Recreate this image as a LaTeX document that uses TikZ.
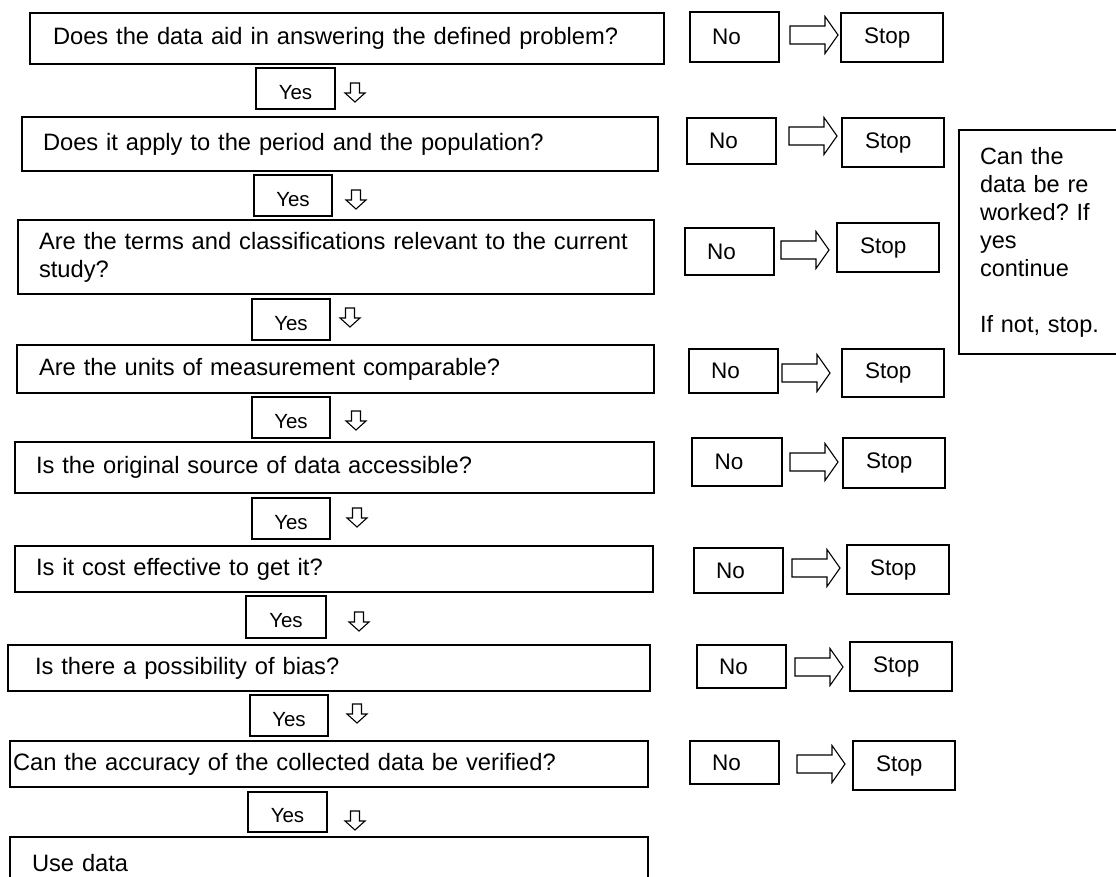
\documentclass[tikz,border=0pt]{standalone}
\usepackage{fontspec}
\setmainfont{Liberation Sans}
\frenchspacing
\begin{document}
\begin{tikzpicture}[x=1pt,y=-1pt,
  box/.style={draw, line width=1.3pt, rectangle, outer sep=0pt, inner ysep=0pt, anchor=north west},
  qbox/.style={box, align=left, font=\fontsize{23.7}{28}\selectfont},
  yesbox/.style={box, text height=21.7pt, text depth=0pt, font=\fontsize{20.5}{24}\selectfont},
  nobox/.style={box, align=left, inner xsep=22pt, text width=45pt, font=\fontsize{22.5}{26}\selectfont},
  stopbox/.style={box, align=left, inner xsep=23pt, text width=56pt, font=\fontsize{22.5}{26}\selectfont},
  notebox/.style={box, align=left, inner xsep=21pt, text width=128pt, font=\fontsize{23.5}{28}\selectfont},
  rarrow/.pic={\draw[line width=1.1pt, line join=miter] (0,-9) -- (35,-9) -- (35,-18.5) -- (48,0) -- (35,18.5) -- (35,9) -- (0,9) -- cycle;},
  darrow/.pic={\draw[line width=1.1pt, line join=miter] (-4.5,0) -- (4.5,0) -- (4.5,10) -- (10,10) -- (0,19) -- (-10,10) -- (-4.5,10) -- cycle;}
]
\useasboundingbox (0,0) rectangle (1116,877);

% question column
\node[qbox, minimum width=634pt, minimum height=51pt, inner xsep=23pt, text width=588pt] (q1) at (30,13) {Does the data aid in answering the defined problem?};
\node[qbox, minimum width=636pt, minimum height=54pt, inner xsep=21pt, text width=594pt] (q2) at (22,117) {Does it apply to the period and the population?};
\node[qbox, minimum width=636pt, minimum height=74pt, inner xsep=21pt, text width=594pt] (q3) at (18,220) {Are the terms and classifications relevant to the current\\study?};
\node[qbox, minimum width=637pt, minimum height=48pt, inner xsep=22pt, text width=593pt] (q4) at (17,345) {Are the units of measurement comparable?};
\node[qbox, minimum width=639pt, minimum height=51pt, inner xsep=21pt, text width=597pt] (q5) at (15,442) {Is the original source of data accessible?};
\node[qbox, minimum width=638pt, minimum height=46pt, inner xsep=21pt, text width=596pt] (q6) at (15,546) {Is it cost effective to get it?};
\node[qbox, minimum width=642pt, minimum height=46pt, inner xsep=27pt, text width=588pt] (q7) at (8,645) {Is there a possibility of bias?};
\node[qbox, minimum width=638pt, minimum height=46pt, inner xsep=3pt, text width=632pt] (q8) at (10,741) {Can the accuracy of the collected data be verified?};
\node[qbox, minimum width=638pt, minimum height=52pt, inner xsep=22pt, text width=594pt] (q9) at (10,837) {Use data};

% Yes boxes with their down arrows
\node[yesbox, minimum width=79pt, minimum height=41pt] (y1) at (256,68) {Yes};
\node[yesbox, minimum width=78pt, minimum height=41pt] (y2) at (254,175) {Yes};
\node[yesbox, minimum width=78pt, minimum height=41pt] (y3) at (252,299) {Yes};
\node[yesbox, minimum width=78pt, minimum height=41pt] (y4) at (252,397) {Yes};
\node[yesbox, minimum width=78pt, minimum height=41pt] (y5) at (252,498) {Yes};
\node[yesbox, minimum width=80pt, minimum height=42pt] (y6) at (246,596) {Yes};
\node[yesbox, minimum width=78pt, minimum height=41pt] (y7) at (250,695) {Yes};
\node[yesbox, minimum width=79pt, minimum height=40pt] (y8) at (248,792) {Yes};

\pic (d1) at (355,83) {darrow};
\pic (d2) at (356,190) {darrow};
\pic (d3) at (350,308) {darrow};
\pic (d4) at (356,411) {darrow};
\pic (d5) at (357,508) {darrow};
\pic (d6) at (359,612) {darrow};
\pic (d7) at (357,704) {darrow};
\pic (d8) at (355,811) {darrow};

% No boxes
\node[nobox, minimum width=89pt, minimum height=50pt] (n1) at (690,12) {No};
\node[nobox, minimum width=88pt, minimum height=46pt] (n2) at (687,118) {No};
\node[nobox, minimum width=88pt, minimum height=47pt] (n3) at (685,228) {No};
\node[nobox, minimum width=88pt, minimum height=44pt] (n4) at (689,349) {No};
\node[nobox, minimum width=90pt, minimum height=48pt] (n5) at (692,438) {No};
\node[nobox, minimum width=89pt, minimum height=45pt] (n6) at (694,548) {No};
\node[nobox, minimum width=88pt, minimum height=43pt] (n7) at (697,645) {No};
\node[nobox, minimum width=89pt, minimum height=43pt] (n8) at (690,741) {No};

% Stop boxes
\node[stopbox, minimum width=102pt, minimum height=49pt] (s1) at (841,13) {Stop};
\node[stopbox, minimum width=102pt, minimum height=49pt] (s2) at (842,118) {Stop};
\node[stopbox, minimum width=102pt, minimum height=49pt] (s3) at (837,223) {Stop};
\node[stopbox, minimum width=101pt, minimum height=48pt] (s4) at (842,349) {Stop};
\node[stopbox, minimum width=102pt, minimum height=50pt] (s5) at (843,438) {Stop};
\node[stopbox, minimum width=101pt, minimum height=49pt] (s6) at (847,545) {Stop};
\node[stopbox, minimum width=102pt, minimum height=49pt] (s7) at (850,642) {Stop};
\node[stopbox, minimum width=101pt, minimum height=49pt] (s8) at (853,741) {Stop};

% block arrows from No to Stop
\pic (r1) at (790,35) {rarrow};
\pic (r2) at (789,136) {rarrow};
\pic (r3) at (781,250) {rarrow};
\pic (r4) at (782,373) {rarrow};
\pic (r5) at (790,462) {rarrow};
\pic (r6) at (792,568) {rarrow};
\pic (r7) at (795,667) {rarrow};
\pic (r8) at (797,764) {rarrow};

% side note
\node[notebox, minimum width=170pt, minimum height=224pt] (note) at (959,130)
  {Can the\\data be re\\worked? If\\yes\\continue\\[28pt]If not, stop.};
\end{tikzpicture}
\end{document}
